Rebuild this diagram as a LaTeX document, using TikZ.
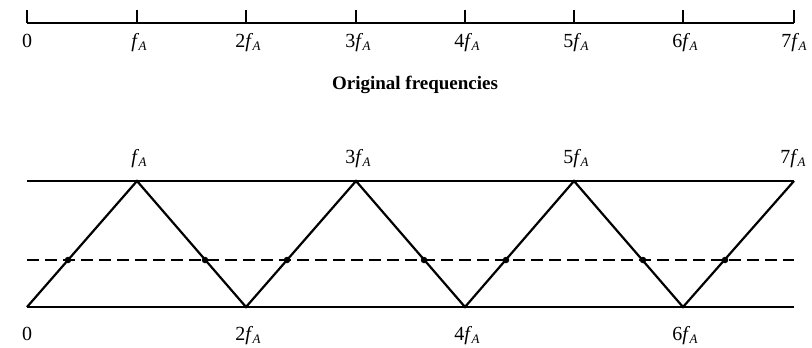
\documentclass[tikz,border=0pt]{standalone}
\usepackage{fontspec}
\setmainfont{Liberation Serif}
\newcommand{\fAlab}[1][]{#1\textit{f}\kern-0.5pt\raisebox{-0.4ex}{\fontsize{13}{14}\selectfont\textit{A}}}
\begin{document}
\begin{tikzpicture}[x=1pt,y=-1pt,
  axisline/.style={line width=1.8pt},
  tickmark/.style={line width=1.5pt},
  bandline/.style={line width=2pt},
  zig/.style={line width=2.2pt, line join=miter},
  dashline/.style={line width=2pt, dash pattern=on 12pt off 6pt},
  lab/.style={font=\fontsize{20}{22}\selectfont, inner sep=0pt, anchor=base},
  dotm/.style={circle, fill=black, inner sep=0pt, minimum size=6.5pt}]
\useasboundingbox (0,0) rectangle (812,348);
% top axis
\foreach \i/\x in {0/27,1/137,2/246,3/356,4/465,5/574,6/683,7/794}{
  \coordinate (t\i) at (\x,23);
  \coordinate (tt\i) at (\x,10);
  \draw[tickmark] (t\i) -- (tt\i);
}
\draw[axisline] (t0) -- (t7);
\node[lab] (l0) at (27,47) {0};
\node[lab] (l1) at (139,47) {\fAlab};
\node[lab] (l2) at (248,47) {\fAlab[2]};
\node[lab] (l3) at (358,47) {\fAlab[3]};
\node[lab] (l4) at (467,47) {\fAlab[4]};
\node[lab] (l5) at (576,47) {\fAlab[5]};
\node[lab] (l6) at (685,47) {\fAlab[6]};
\node[lab] (l7) at (794,47) {\fAlab[7]};
\node[font=\fontsize{19}{21}\selectfont\bfseries, inner sep=0pt, anchor=base] (title) at (415,89) {Original frequencies};
% bottom band
\coordinate (bl) at (27,307);
\coordinate (br) at (794,307);
\coordinate (tl) at (27,181);
\coordinate (tr) at (794,181);
\draw[bandline] (tl) -- (tr);
\draw[bandline] (bl) -- (br);
\coordinate (dl) at (27,260);
\coordinate (dr) at (794,260);
\draw[dashline] (dl) -- (dr);
\coordinate (z0) at (27,307);
\coordinate (z1) at (137,181);
\coordinate (z2) at (246,307);
\coordinate (z3) at (356,181);
\coordinate (z4) at (465,307);
\coordinate (z5) at (574,181);
\coordinate (z6) at (683,307);
\coordinate (z7) at (794,181);
\draw[zig] (z0) -- (z1) -- (z2) -- (z3) -- (z4) -- (z5) -- (z6) -- (z7);
% intersection dots
\foreach \n/\x in {a/68,b/205,c/287,d/424,e/506,f/643,g/725}{
  \node[dotm] (dot\n) at (\x,260) {};
}
\node[lab] (b1) at (139,163) {\fAlab};
\node[lab] (b3) at (358,163) {\fAlab[3]};
\node[lab] (b5) at (576,163) {\fAlab[5]};
\node[lab] (b7) at (793,163) {\fAlab[7]};
\node[lab] (b0) at (27,340) {0};
\node[lab] (b2) at (248,340) {\fAlab[2]};
\node[lab] (b4) at (467,340) {\fAlab[4]};
\node[lab] (b6) at (685,340) {\fAlab[6]};
\end{tikzpicture}
\end{document}
